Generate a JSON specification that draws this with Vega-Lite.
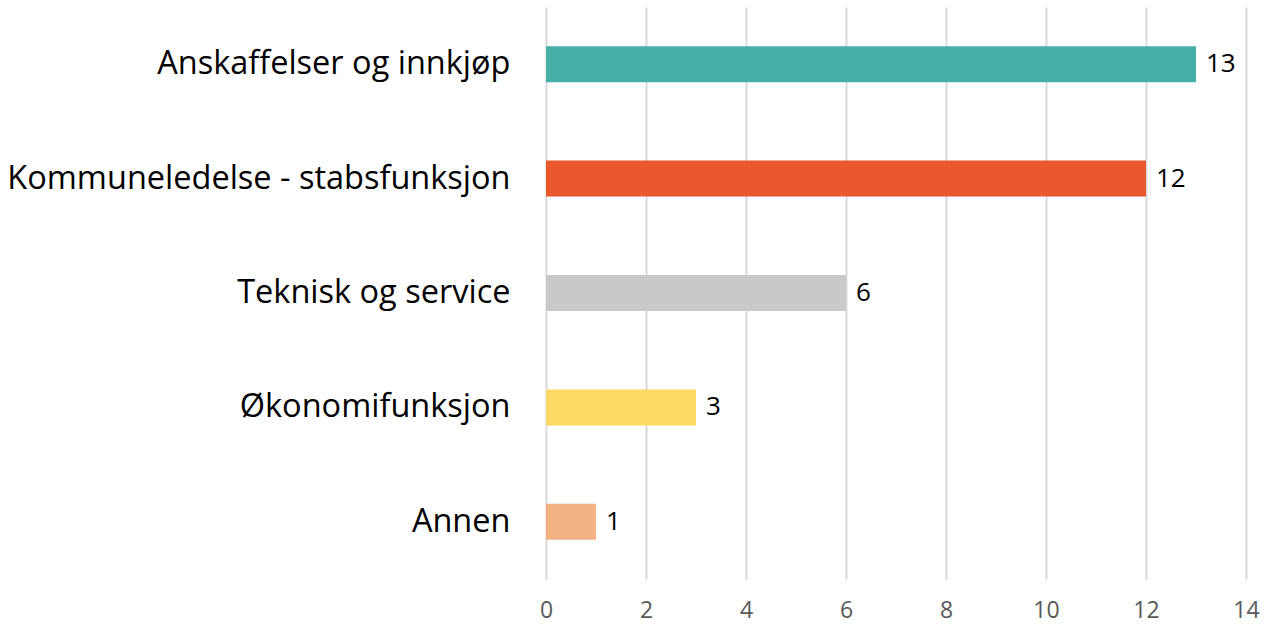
{
  "$schema": "https://vega.github.io/schema/vega-lite/v6.json",
  "width": 700,
  "height": 572,
  "autosize": {"type": "none"},
  "padding": {"left": 546, "top": 7, "right": 20, "bottom": 48},
  "background": "white",
  "config": {"view": {"stroke": null}, "font": "Open Sans"},
  "data": {"values": [
    {"kategori": "Anskaffelser og innkjøp", "antall": 13, "farge": "#46AFA8"},
    {"kategori": "Kommuneledelse - stabsfunksjon", "antall": 12, "farge": "#E8582C"},
    {"kategori": "Teknisk og service", "antall": 6, "farge": "#C9C9C9"},
    {"kategori": "Økonomifunksjon", "antall": 3, "farge": "#FDD966"},
    {"kategori": "Annen", "antall": 1, "farge": "#F4B183"}
  ]},
  "encoding": {
    "y": {"field": "kategori", "type": "nominal", "sort": null,
      "scale": {"paddingInner": 0.685, "paddingOuter": 0.3425},
      "axis": {"title": null, "domain": false, "ticks": false, "labelFontSize": 32.5, "labelColor": "#000000", "labelPadding": 36, "labelLimit": 600}},
    "x": {"field": "antall", "type": "quantitative",
      "scale": {"domain": [0, 14], "nice": false},
      "axis": {"title": null, "values": [0,2,4,6,8,10,12,14], "domain": false, "ticks": false, "grid": true, "gridColor": "#D9D9D9", "gridWidth": 2, "labelFontSize": 23, "labelColor": "#595959", "labelPadding": 20, "labelFlush": false}}
  },
  "layer": [
    {"mark": {"type": "bar"}, "encoding": {"color": {"field": "farge", "type": "nominal", "scale": null}}},
    {"mark": {"type": "text", "align": "left", "dx": 10, "fontSize": 26, "color": "#000000"}, "encoding": {"text": {"field": "antall", "type": "quantitative"}}}
  ]
}
